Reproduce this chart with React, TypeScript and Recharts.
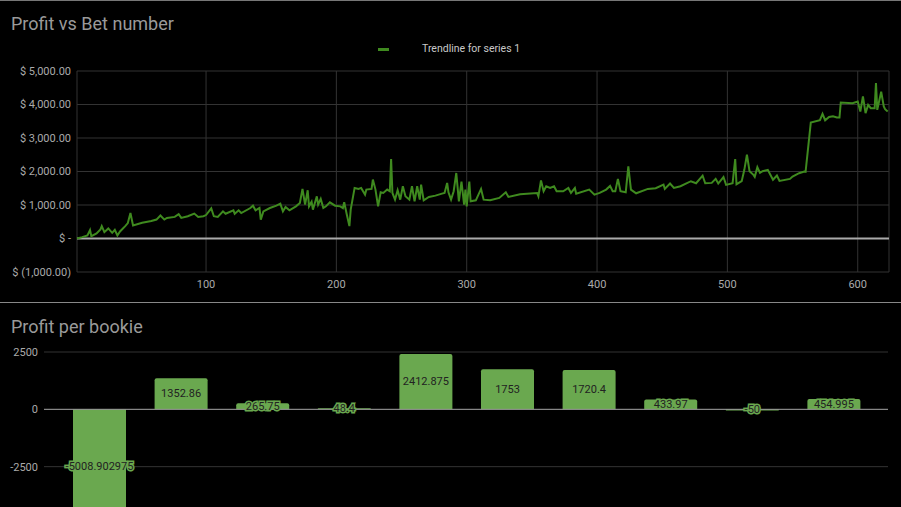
import { LineChart, Line, BarChart, Bar, XAxis, YAxis, CartesianGrid, ReferenceLine, LabelList } from "recharts"

// bet number -> cumulative profit
const betNumbers = [
  1, 5, 9, 11, 12, 16, 19, 20, 22, 25, 28, 30, 32, 34, 38, 40, 42, 44, 51, 54,
  58, 62, 65, 68, 70, 76, 79, 81, 86, 91, 94, 98, 100, 104, 106, 109, 113, 115, 121, 122,
  125, 127, 134, 136, 138, 141, 142, 144, 149, 154, 157, 159, 161, 164, 169, 172, 174, 176, 178, 179,
  181, 182, 185, 186, 188, 190, 192, 195, 199, 203, 205, 206, 208, 210, 211, 214, 217, 219, 222, 223,
  227, 228, 230, 232, 234, 236, 239, 241, 242, 243, 245, 247, 249, 251, 253, 256, 258, 260, 262, 264,
  265, 267, 271, 276, 281, 283, 285, 286, 288, 290, 292, 294, 295, 296, 298, 299, 300, 302, 303, 307,
  311, 313, 318, 325, 330, 332, 341, 354, 355, 357, 359, 361, 364, 367, 369, 374, 378, 380, 383, 384,
  394, 398, 402, 407, 410, 412, 414, 416, 418, 422, 424, 426, 430, 439, 445, 451, 452, 456, 459, 464,
  472, 476, 481, 483, 488, 491, 493, 497, 499, 504, 506, 507, 511, 513, 515, 517, 520, 521, 523, 525,
  527, 531, 535, 538, 540, 548, 550, 555, 559, 560, 564, 571, 573, 575, 578, 581, 584, 586, 587, 596,
  600, 602, 604, 606, 608, 610, 613, 614, 615, 618, 620, 621, 623,
]
const profits = [
  0, 40, 90, 250, 70, 150, 270, 370, 190, 300, 170, 260, 90, 210, 370, 460, 760, 390, 470, 490,
  520, 565, 685, 565, 615, 645, 725, 615, 665, 745, 645, 665, 700, 900, 665, 645, 810, 740, 840, 740,
  840, 760, 910, 980, 840, 910, 565, 810, 910, 980, 1040, 810, 940, 840, 960, 1060, 1480, 1010, 1440, 960,
  1100, 860, 1260, 1010, 1180, 910, 960, 1080, 980, 960, 910, 1080, 715, 370, 860, 1510, 1480, 1510, 1310, 1460,
  1480, 1760, 1460, 960, 1380, 1360, 1460, 1410, 2370, 1360, 1160, 1440, 1160, 1560, 1260, 1160, 1560, 1110, 1560, 1160,
  1610, 1140, 1240, 1280, 1340, 1360, 1660, 1380, 1160, 1410, 1955, 1110, 1410, 1700, 1010, 1460, 960, 1700, 1110, 1140,
  1480, 1160, 1140, 1210, 1380, 1240, 1320, 1360, 1260, 1735, 1410, 1560, 1510, 1560, 1410, 1410, 1510, 1360, 1510, 1340,
  1460, 1310, 1360, 1460, 1570, 1410, 1410, 1780, 1410, 1380, 2150, 1460, 1350, 1480, 1500, 1610, 1480, 1640, 1510, 1560,
  1710, 1650, 1875, 1650, 1660, 1780, 1640, 1835, 1600, 1650, 2370, 1620, 1710, 2050, 2500, 2010, 1900, 1840, 2130, 1960,
  2010, 2050, 1755, 1880, 1720, 1780, 1850, 1950, 2000, 1990, 3460, 3530, 3720, 3530, 3630, 3650, 3610, 3610, 4060, 4040,
  4090, 3790, 4240, 3740, 3990, 3890, 3890, 4640, 3840, 4380, 3940, 3860, 3790,
]
const betTicks = [100, 200, 300, 400, 500, 600]
const profitTicks = [-1000, 0, 1000, 2000, 3000, 4000, 5000]

const bookies = ["Bookie 1", "Bookie 2", "Bookie 3", "Bookie 4", "Bookie 5", "Bookie 6", "Bookie 7", "Bookie 8", "Bookie 9", "Bookie 10"]
const bookieProfit = [-5008.902975, 1352.86, 265.75, 48.4, 2412.875, 1753, 1720.4, 433.97, -50, 454.995]
const bookieTicks = [-2500, 0, 2500]

const lineData = betNumbers.map((bet, i) => ({ bet, profit: profits[i] }))
const barData = bookies.map((name, i) => ({ name, profit: bookieProfit[i] }))

const font = "Roboto, Arial, sans-serif"
const lineColor = "#3f8a1f"
const barColor = "#6aa84f"

const money = (v: number) => {
  if (v === 0) return "$ -"
  const s = Math.abs(v).toLocaleString("en-US", { minimumFractionDigits: 2, maximumFractionDigits: 2 })
  return v < 0 ? `$ (${s})` : `$ ${s}`
}

const MoneyTick = (p: any) => (
  <text x={p.x} y={p.y} dy="0.355em" textAnchor="end" fontSize={11} fontFamily={font} fill="#aaa">
    {money(p.payload.value)}
  </text>
)

const BarValue = (p: any) => {
  const vb = p.viewBox ?? p
  const cx = vb.x + vb.width / 2
  const cy = vb.y + vb.height / 2
  return (
    <text x={cx} y={cy} textAnchor="middle" dominantBaseline="central" fontSize={11} fontFamily={font}
      fill="#222" stroke={barColor} strokeWidth={3} style={{ paintOrder: "stroke" }}>
      {String(p.value)}
    </text>
  )
}

const titleStyle = { position: "absolute" as const, left: 11, fontFamily: font, fontSize: 18, color: "#9a9a9a", lineHeight: "21px" }

export default function App() {
  return (
    <div style={{ position: "absolute", left: 0, top: 0, width: 901, height: 507, background: "#000", overflow: "hidden" }}>
      <div style={{ position: "absolute", left: 0, top: 0, width: 901, height: 1, background: "#777" }} />
      <div style={{ ...titleStyle, top: 13 }}>Profit vs Bet number</div>
      <div style={{ position: "absolute", left: 378, top: 48, width: 11, height: 3, background: lineColor }} />
      <div style={{ position: "absolute", left: 422, top: 42, fontFamily: font, fontSize: 10.5, color: "#c8c8c8", lineHeight: "14px" }}>
        Trendline for series 1
      </div>

      <div style={{ position: "absolute", left: 0, top: 0 }}>
        <LineChart width={901} height={300} data={lineData} margin={{ top: 71, right: 12, bottom: 0, left: 0 }}>
          <CartesianGrid stroke="#333" />
          <XAxis dataKey="bet" type="number" domain={[1, 624]} ticks={betTicks} height={28}
            axisLine={false} tickLine={false} tick={{ fill: "#aaa", fontSize: 11, fontFamily: font }} />
          <YAxis domain={[-1000, 5000]} ticks={profitTicks} width={77}
            axisLine={false} tickLine={false} tickMargin={0} tick={MoneyTick} />
          <ReferenceLine y={0} stroke="#aaa" strokeWidth={2} />
          <Line type="linear" dataKey="profit" stroke={lineColor} strokeWidth={2} dot={false} isAnimationActive={false} />
        </LineChart>
      </div>

      <div style={{ position: "absolute", left: 0, top: 302, width: 901, height: 1, background: "#888" }} />
      <div style={{ ...titleStyle, top: 316 }}>Profit per bookie</div>

      <div style={{ position: "absolute", left: 0, top: 300 }}>
        <BarChart width={901} height={230} data={barData} margin={{ top: 52, right: 13, bottom: 6, left: 0 }}>
          <CartesianGrid stroke="#333" vertical={false} />
          <XAxis dataKey="name" hide padding={{ left: 15, right: 13 }} />
          <YAxis domain={[-5000, 2500]} ticks={bookieTicks} allowDataOverflow width={44}
            axisLine={false} tickLine={false} tickMargin={0}
            tick={{ fill: "#aaa", fontSize: 11, fontFamily: font }} />
          <ReferenceLine y={0} stroke="#999" />
          <Bar dataKey="profit" fill={barColor} barSize={53} radius={[2, 2, 0, 0]} isAnimationActive={false}>
            <LabelList dataKey="profit" content={BarValue} />
          </Bar>
        </BarChart>
      </div>
    </div>
  )
}
